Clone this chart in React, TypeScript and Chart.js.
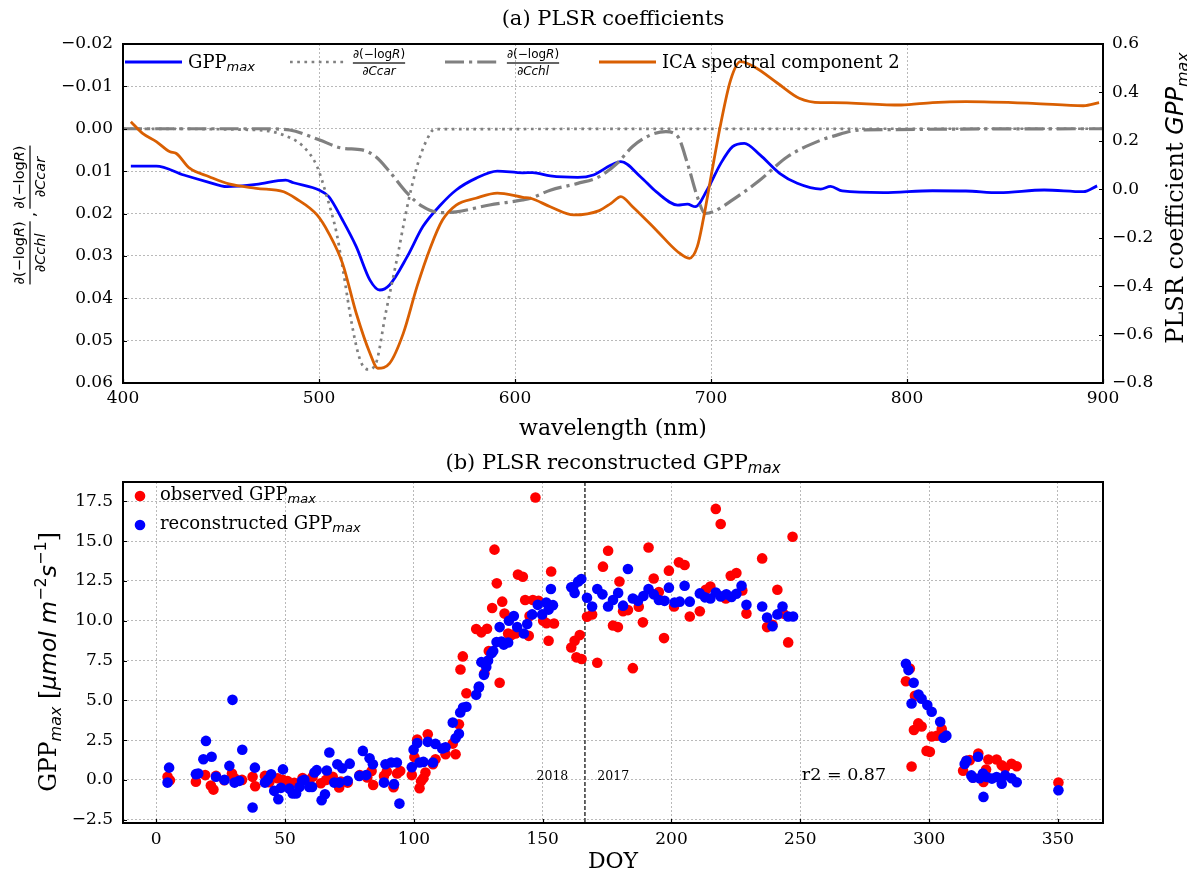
import React, { useEffect, useRef } from 'react';
import { Chart, registerables } from 'chart.js';

Chart.register(...registerables);

// ---------- (a) PLSR coefficients ----------
const wlTicks = [400, 500, 600, 700, 800, 900];
const derivTicks = [-0.02, -0.01, 0, 0.01, 0.02, 0.03, 0.04, 0.05, 0.06];
const coefTicks = [-0.8, -0.6, -0.4, -0.2, 0, 0.2, 0.4, 0.6];

const gppWl = [404, 417, 431, 443, 453, 468, 483, 487, 500, 505, 512, 519, 526, 531, 536, 545, 553, 562, 570, 580, 591, 604, 609, 618, 632, 640, 649, 654, 664, 672, 683, 688, 692, 698, 705, 711, 717, 725, 735, 744, 756, 761, 767, 788, 813, 830, 847, 870, 890, 897];
const gppCoef = [0.096, 0.096, 0.059, 0.031, 0.011, 0.020, 0.038, 0.027, -0.003, -0.030, -0.127, -0.237, -0.375, -0.416, -0.395, -0.278, -0.154, -0.065, -0.003, 0.045, 0.075, 0.068, 0.069, 0.055, 0.049, 0.059, 0.100, 0.114, 0.052, -0.010, -0.065, -0.061, -0.072, -0.003, 0.107, 0.176, 0.190, 0.142, 0.066, 0.025, 0.001, 0.012, -0.007, -0.014, -0.006, -0.007, -0.014, -0.003, -0.010, 0.014];

const icaWl = [404, 410, 417, 424, 427, 434, 444, 454, 468, 482, 488, 499, 505, 512, 519, 526, 530, 536, 543, 550, 557, 563, 570, 580, 591, 604, 608, 618, 630, 643, 649, 654, 660, 672, 683, 689, 693, 696, 700, 705, 710, 715, 722, 734, 745, 756, 762, 797, 813, 830, 864, 890, 898];
const icaComp = [0.279, 0.231, 0.197, 0.155, 0.149, 0.087, 0.052, 0.022, 0.004, -0.010, -0.037, -0.106, -0.182, -0.306, -0.512, -0.677, -0.739, -0.719, -0.595, -0.402, -0.237, -0.127, -0.065, -0.037, -0.016, -0.033, -0.037, -0.072, -0.106, -0.088, -0.058, -0.030, -0.072, -0.168, -0.258, -0.285, -0.237, -0.127, 0.052, 0.272, 0.451, 0.527, 0.506, 0.438, 0.376, 0.358, 0.358, 0.348, 0.358, 0.362, 0.355, 0.345, 0.358];

const ccarWl = [400, 468, 482, 492, 499, 504, 509, 512, 517, 521, 525, 529, 534, 540, 545, 550, 555, 559, 900];
const ccarDeriv = [0, 0.0003, 0.0015, 0.0042, 0.0089, 0.016, 0.0247, 0.0326, 0.0467, 0.0546, 0.0568, 0.0554, 0.0436, 0.0302, 0.0184, 0.0089, 0.0026, 0.0001, 0];

const cchlWl = [400, 470, 485, 500, 512, 522, 529, 536, 545, 553, 562, 570, 587, 604, 608, 618, 632, 643, 652, 660, 669, 677, 683, 688, 693, 697, 701, 711, 725, 739, 756, 762, 776, 900];
const cchlDeriv = [0, 0, 0.0003, 0.0026, 0.0046, 0.005, 0.0066, 0.0101, 0.0152, 0.0184, 0.0198, 0.0196, 0.018, 0.0168, 0.0164, 0.0145, 0.0129, 0.0113, 0.0082, 0.0042, 0.0015, 0.0007, 0.0018, 0.0082, 0.016, 0.02, 0.0196, 0.0168, 0.0121, 0.0066, 0.0027, 0.0018, 0.0003, 0];

// ---------- (b) PLSR reconstructed GPPmax ----------
const doyTicks = [0, 50, 100, 150, 200, 250, 300, 350];
const gppTicks = [-2.5, 0, 2.5, 5, 7.5, 10, 12.5, 15, 17.5];

const obsDoy = [4.4, 5.3, 15.4, 19, 21.2, 22.2, 23.2, 26.4, 29.4, 30.4, 33.3, 37.4, 38.4, 42.2, 43.9, 47.1, 49.1, 51, 53.6, 56.8, 58.8, 60.7, 63.9, 65.9, 68.5, 71, 71.7, 74.3, 79, 81.9, 83.6, 84.2, 88.4, 89.5, 92.1, 93.5, 94.7, 99.2, 100.2, 101.3, 102.2, 102.8, 103.7, 104.5, 105.4, 107.4, 108.4, 112.3, 115.1, 116.2, 117.5, 118.1, 119, 120.4, 124.2, 126.2, 127.4, 128.4, 129.1, 130.4, 131.3, 132.2, 133.3, 134.3, 135.2, 136.6, 137.9, 139.5, 140.4, 142.3, 143.2, 144.6, 144.9, 146.2, 147.2, 148.4, 150.2, 151.5, 152.3, 153.3, 154.4, 161.1, 162.4, 163.1, 164.4, 165.1, 167.2, 169.2, 171.2, 173.4, 175.4, 177.3, 179.2, 179.8, 181.2, 183.1, 185, 187.3, 188.9, 191.1, 193.1, 195.1, 197.1, 199, 201, 202.9, 205.1, 207.1, 211, 213.3, 215.1, 217.2, 219.1, 221.1, 223, 225.2, 227.5, 229.1, 235.2, 237.1, 239.2, 241.1, 243.4, 245.3, 247, 291, 292.5, 293.2, 294.1, 294.5, 295.8, 297.1, 299, 300.3, 301, 303, 304.9, 313.2, 314.5, 315.8, 317.1, 319.1, 321.1, 322.1, 323, 326.2, 328.2, 329.5, 332, 334, 350.2];
const obsGpp = [0.19, -0.02, -0.12, 0.3, -0.36, -0.61, 0.25, -0.02, 0.4, 0.1, 0, 0.19, -0.4, 0.25, -0.15, 0.1, 0, -0.08, -0.19, 0.12, -0.04, 0.19, -0.21, 0, 0.19, -0.48, -0.1, -0.17, 0.3, 0.15, 0.56, -0.32, 0.25, 0.52, -0.46, 0.4, 0.56, 0.3, 1.43, 2.54, -0.52, -0.08, 0.1, 0.46, 2.86, 0.98, 1.3, 1.61, 2.28, 1.61, 3.5, 6.94, 7.76, 5.44, 9.48, 9.27, 6.7, 9.5, 8.1, 10.8, 14.47, 12.35, 6.1, 11.2, 10.45, 9.2, 9.1, 9.2, 12.9, 12.77, 11.3, 9.05, 10.3, 11.3, 17.75, 11.25, 10, 9.85, 8.74, 13.1, 9.83, 8.32, 8.74, 7.7, 9.1, 7.6, 10.25, 10.4, 7.36, 13.4, 14.4, 9.7, 9.6, 12.47, 10.6, 10.67, 7.02, 10.88, 9.9, 14.6, 12.66, 11.8, 8.91, 13.15, 10.9, 13.67, 13.5, 10.27, 10.6, 11.95, 12.15, 17.03, 16.08, 11.4, 12.83, 13.0, 11.9, 10.45, 13.92, 9.6, 9.75, 11.95, 10.45, 8.64, 15.28, 6.2, 7.0, 0.84, 3.13, 5.28, 3.55, 3.35, 1.82, 1.76, 2.73, 2.77, 3.19, 0.57, 1.2, 1.24, 0.15, 1.66, -0.13, 0.65, 1.28, 1.28, 0.92, 0.76, 1.01, 0.86, -0.17];

const recDoy = [4.4, 5, 15.4, 16.3, 18.3, 19.3, 21.5, 23.2, 26.5, 28.4, 29.6, 30.4, 32.2, 33.4, 37.4, 38.3, 42.2, 43.3, 44.6, 45.8, 47.4, 48.4, 49.2, 51.7, 53, 54.3, 55.6, 56.6, 57.5, 59.4, 60.5, 61.4, 62.3, 64.2, 65.5, 66.2, 67.2, 69.1, 70.3, 71, 72.2, 74.3, 75.1, 78.8, 80.2, 81.5, 82.8, 84.1, 88.4, 89, 91.2, 92.3, 93.4, 94.4, 99.2, 99.9, 101.3, 102.2, 103.7, 105.4, 107.4, 108.4, 111, 112.3, 115.1, 116.2, 117.5, 118, 119.1, 120.4, 124.2, 125.2, 125.3, 126.2, 127.2, 128.1, 128.8, 130.1, 130.8, 132.1, 133.3, 134, 134.9, 136.6, 136.9, 138.8, 140.1, 142.7, 144, 145.9, 148.1, 149.8, 151.4, 152.3, 153.2, 154, 161.1, 161.8, 162.4, 163.8, 165, 167.2, 169.2, 171.2, 173.2, 175.4, 177.3, 179.3, 181.2, 183.1, 185, 187, 189.1, 191.1, 193.1, 195.1, 197.3, 199, 201.2, 203.2, 205.1, 207.1, 211, 213, 215.1, 217.2, 219.1, 221.3, 223.3, 225.2, 227.2, 229.1, 235.2, 237.1, 239.2, 241.1, 243.1, 245.3, 247.2, 291, 292, 293.2, 294, 295.9, 297.1, 299.3, 301, 304.3, 305.6, 306.7, 313.8, 314.5, 316.4, 317, 319, 319.6, 320.9, 321.1, 322.4, 324.4, 326.2, 328.2, 329.5, 332, 334, 350.2];
const recGpp = [-0.17, 0.77, 0.36, 0.4, 1.3, 2.45, 1.45, 0.2, 0, 0.88, 5.03, -0.17, -0.06, 1.89, -1.74, 0.77, -0.17, 0.03, 0.35, -0.69, -1.22, -0.5, 0.66, -0.55, -0.86, -0.86, -0.44, -0.06, 0, -0.44, -0.44, 0.46, 0.61, -1.28, -0.9, 0.59, 1.72, -0.17, 0.98, -0.17, 0.73, -0.06, 1.02, 0.25, 1.82, 0.3, 1.36, 0.98, -0.17, 0.98, 1.09, -0.27, 1.09, -1.49, 0.8, 1.9, 2.32, 1.09, 1.13, 2.39, 1.09, 2.26, 1.97, 2.05, 3.6, 2.61, 2.9, 4.23, 4.55, 4.6, 5.35, 5.8, 5.87, 7.4, 6.6, 7.1, 7.5, 7.95, 8.1, 8.66, 9.6, 8.7, 8.5, 8.63, 10.0, 10.3, 9.6, 9.2, 9.8, 10.4, 11.0, 10.4, 11.15, 10.7, 12.0, 10.98, 12.1, 12.1, 11.75, 12.46, 12.62, 11.45, 10.9, 12.0, 11.66, 10.9, 11.3, 11.75, 10.95, 13.25, 11.4, 11.25, 11.56, 12.0, 11.66, 11.3, 11.25, 12.08, 11.15, 11.2, 12.2, 11.2, 11.72, 11.47, 11.4, 11.78, 11.53, 11.66, 11.5, 11.7, 12.2, 11.0, 10.9, 10.2, 9.65, 10.4, 10.9, 10.27, 10.27, 7.3, 6.9, 4.8, 6.1, 5.37, 5.1, 4.7, 4.28, 3.65, 2.65, 2.78, 1.0, 1.2, 0.28, 0.14, 1.45, 0.1, 0.4, -1.07, 0.18, 0.08, 0.18, -0.24, 0.28, 0.1, -0.15, -0.65];

const yearSplitDoy = 166.4;
const yearLabels = ['2018', '2017'];
const r2Label = 'r2 = 0.87';

// ---------- helpers ----------
const SERIF = '"DejaVu Serif", serif';
const SANS = '"DejaVu Sans", sans-serif';
const sf = (s: number, it = false) => `${it ? 'italic ' : ''}${s}px ${SERIF}`;
const ssf = (s: number, it = false) => `${it ? 'italic ' : ''}${s}px ${SANS}`;

type Run = { t: string; f: string; dy?: number };

function runsWidth(ctx: CanvasRenderingContext2D, runs: Run[]) {
  let w = 0;
  for (const r of runs) { ctx.font = r.f; w += ctx.measureText(r.t).width; }
  return w;
}
function drawRuns(ctx: CanvasRenderingContext2D, runs: Run[], x: number, y: number, align: 'left' | 'center') {
  const w = runsWidth(ctx, runs);
  let cx = align === 'center' ? x - w / 2 : x;
  ctx.textAlign = 'left';
  ctx.textBaseline = 'alphabetic';
  for (const r of runs) {
    ctx.font = r.f;
    ctx.fillText(r.t, cx, y + (r.dy || 0));
    cx += ctx.measureText(r.t).width;
  }
}
const numRuns = (s: number): Run[] => [{ t: '∂(−log', f: ssf(s) }, { t: 'R', f: ssf(s, true) }, { t: ')', f: ssf(s) }];
const denRuns = (s: number, name: string): Run[] => [{ t: '∂', f: ssf(s) }, { t: name, f: ssf(s, true) }];
function fracWidth(ctx: CanvasRenderingContext2D, s: number, name: string) {
  return Math.max(runsWidth(ctx, numRuns(s)), runsWidth(ctx, denRuns(s, name)));
}
function drawFrac(ctx: CanvasRenderingContext2D, cx: number, barY: number, s: number, name: string) {
  const w = fracWidth(ctx, s, name);
  drawRuns(ctx, numRuns(s), cx, barY - 0.42 * s, 'center');
  drawRuns(ctx, denRuns(s, name), cx, barY + 1.0 * s, 'center');
  ctx.fillRect(cx - w / 2, barY - 0.6, w, 1.2);
  return w;
}
function minusFmt(v: number, d: number) {
  if (Math.abs(v) < 1e-9) return (0).toFixed(d);
  const s = Math.abs(v).toFixed(d);
  return v < 0 ? '−' + s : s;
}
function drawFrame(ctx: CanvasRenderingContext2D, a: any) {
  ctx.save();
  ctx.strokeStyle = '#000';
  ctx.lineWidth = 2;
  ctx.strokeRect(a.left, a.top, a.right - a.left, a.bottom - a.top);
  ctx.restore();
}
function inwardTicks(chart: any, id: string, side: 'left' | 'right' | 'bottom', len = 4) {
  const ctx = chart.ctx; const a = chart.chartArea; const sc = chart.scales[id];
  ctx.save(); ctx.strokeStyle = '#000'; ctx.lineWidth = 1.2;
  ctx.beginPath();
  for (const t of sc.ticks) {
    const p = Math.round(sc.getPixelForValue(t.value)) + 0.5;
    if (side === 'left') { ctx.moveTo(a.left, p); ctx.lineTo(a.left + len, p); }
    else if (side === 'right') { ctx.moveTo(a.right, p); ctx.lineTo(a.right - len, p); }
    else { ctx.moveTo(p, a.bottom); ctx.lineTo(p, a.bottom - len); }
  }
  ctx.stroke(); ctx.restore();
}
function legendLine(ctx: CanvasRenderingContext2D, x0: number, x1: number, y: number, color: string, w: number, dash: number[]) {
  ctx.save(); ctx.strokeStyle = color; ctx.lineWidth = w; ctx.setLineDash(dash); ctx.lineCap = 'butt';
  ctx.beginPath(); ctx.moveTo(x0, y); ctx.lineTo(x1, y); ctx.stroke(); ctx.restore();
}

const BLUE = '#0000ff';
const ORANGE = '#d95f02';
const GRAY = '#808080';
const DOTTED = [2.7, 4.5];
const DASHDOT = [19, 5, 3.2, 5];
const GRID = { color: '#a8a8a8', lineWidth: 0.8, drawTicks: false };
const TICKFONT = { family: SERIF, size: 17 };

const topPlugin = {
  id: 'topDecor',
  afterDraw(chart: any) {
    const ctx: CanvasRenderingContext2D = chart.ctx; const a = chart.chartArea;
    drawFrame(ctx, a);
    inwardTicks(chart, 'yL', 'left');
    inwardTicks(chart, 'yR', 'right');
    inwardTicks(chart, 'x', 'bottom');
    ctx.save();
    ctx.fillStyle = '#000';
    const cx = (a.left + a.right) / 2;
    drawRuns(ctx, [{ t: '(a) PLSR coefficients', f: sf(21) }], cx, 25, 'center');
    drawRuns(ctx, [{ t: 'wavelength (nm)', f: sf(22) }], cx, 435, 'center');
    // right label
    ctx.save(); ctx.translate(1183, 198); ctx.rotate(-Math.PI / 2);
    drawRuns(ctx, [{ t: 'PLSR coefficient ', f: sf(24) }, { t: 'GPP', f: ssf(24, true) }, { t: 'max', f: ssf(16, true), dy: 5 }], 0, 0, 'center');
    ctx.restore();
    // left label (fractions)
    ctx.save(); ctx.translate(30, 215); ctx.rotate(-Math.PI / 2);
    const s = 14.5;
    const w1 = fracWidth(ctx, s, 'Cchl'); const w2 = fracWidth(ctx, s, 'Ccar');
    ctx.font = ssf(s); const wc = ctx.measureText(',').width; const gap = 4;
    const total = w1 + gap + wc + gap + w2; const x0 = -total / 2;
    drawFrac(ctx, x0 + w1 / 2, 0, s, 'Cchl');
    drawRuns(ctx, [{ t: ',', f: ssf(s + 2) }], x0 + w1 + gap, 5, 'left');
    drawFrac(ctx, x0 + w1 + gap + wc + gap + w2 / 2, 0, s, 'Ccar');
    ctx.restore();
    // legend
    const ly = 62;
    legendLine(ctx, 125, 182, ly, BLUE, 2.8, []);
    drawRuns(ctx, [{ t: 'GPP', f: sf(18) }, { t: 'max', f: ssf(13, true), dy: 3 }], 188, 68, 'left');
    legendLine(ctx, 290, 345, ly, GRAY, 2.7, DOTTED);
    drawFrac(ctx, 379, 63, 12, 'Ccar');
    legendLine(ctx, 445, 500, ly, GRAY, 3.2, DASHDOT);
    drawFrac(ctx, 533, 63, 12, 'Cchl');
    legendLine(ctx, 599, 656, ly, ORANGE, 2.8, []);
    drawRuns(ctx, [{ t: 'ICA spectral component 2', f: sf(18) }], 662, 68, 'left');
    ctx.restore();
  },
};

const botPlugin = {
  id: 'botDecor',
  beforeDatasetsDraw(chart: any) {
    const ctx: CanvasRenderingContext2D = chart.ctx; const a = chart.chartArea;
    const x = chart.scales.x.getPixelForValue(yearSplitDoy);
    ctx.save(); ctx.strokeStyle = '#555555'; ctx.lineWidth = 1.8; ctx.setLineDash([4, 2]);
    ctx.beginPath(); ctx.moveTo(x, a.top); ctx.lineTo(x, a.bottom); ctx.stroke(); ctx.restore();
  },
  afterDraw(chart: any) {
    const ctx: CanvasRenderingContext2D = chart.ctx; const a = chart.chartArea;
    const xs = chart.scales.x; const ys = chart.scales.y;
    drawFrame(ctx, a);
    inwardTicks(chart, 'y', 'left');
    inwardTicks(chart, 'x', 'bottom');
    ctx.save(); ctx.fillStyle = '#000';
    const cx = (a.left + a.right) / 2;
    drawRuns(ctx, [{ t: '(b) PLSR reconstructed GPP', f: sf(21) }, { t: 'max', f: ssf(15, true), dy: 4 }], cx, 29, 'center');
    drawRuns(ctx, [{ t: 'DOY', f: sf(22) }], cx, 428, 'center');
    // y label
    ctx.save(); ctx.translate(56, 222); ctx.rotate(-Math.PI / 2);
    drawRuns(ctx, [
      { t: 'GPP', f: sf(23.5) }, { t: 'max', f: ssf(16, true), dy: 5 },
      { t: ' [', f: sf(23.5) }, { t: 'μmol m', f: ssf(23.5, true) }, { t: '−2', f: ssf(16), dy: -10 },
      { t: 's', f: ssf(23.5, true) }, { t: '−1', f: ssf(16), dy: -10 }, { t: ']', f: sf(23.5) },
    ], 0, 0, 'center');
    ctx.restore();
    // legend
    ctx.fillStyle = 'red'; ctx.beginPath(); ctx.arc(140, 56, 5.3, 0, Math.PI * 2); ctx.fill();
    ctx.fillStyle = 'blue'; ctx.beginPath(); ctx.arc(140, 85, 5.3, 0, Math.PI * 2); ctx.fill();
    ctx.fillStyle = '#000';
    drawRuns(ctx, [{ t: 'observed GPP', f: sf(18) }, { t: 'max', f: ssf(13, true), dy: 3 }], 160, 60, 'left');
    drawRuns(ctx, [{ t: 'reconstructed GPP', f: sf(18) }, { t: 'max', f: ssf(13, true), dy: 3 }], 160, 89, 'left');
    // annotations
    const y0 = ys.getPixelForValue(0);
    drawRuns(ctx, [{ t: yearLabels[0], f: sf(12.5) }], xs.getPixelForValue(147.6), y0, 'left');
    drawRuns(ctx, [{ t: yearLabels[1], f: sf(12.5) }], xs.getPixelForValue(171.2), y0, 'left');
    drawRuns(ctx, [{ t: r2Label, f: sf(17.5) }], xs.getPixelForValue(250.6), y0, 'left');
    ctx.restore();
  },
};

function lineData(xs: number[], ys: number[]) { return xs.map((x, i) => ({ x, y: ys[i] })); }

export default function App() {
  const topRef = useRef<HTMLCanvasElement>(null);
  const botRef = useRef<HTMLCanvasElement>(null);

  useEffect(() => {
    const common = { responsive: false, animation: false as const, events: [] as any[], plugins: { legend: { display: false }, title: { display: false }, tooltip: { enabled: false } } };
    const top = new Chart(topRef.current!, {
      type: 'line',
      data: {
        datasets: [
          { data: lineData(gppWl, gppCoef), yAxisID: 'yR', borderColor: BLUE, borderWidth: 2.8, pointRadius: 0, cubicInterpolationMode: 'monotone', order: 3 } as any,
          { data: lineData(ccarWl, ccarDeriv), yAxisID: 'yL', borderColor: GRAY, borderWidth: 2.7, borderDash: DOTTED, pointRadius: 0, cubicInterpolationMode: 'monotone', order: 2 },
          { data: lineData(cchlWl, cchlDeriv), yAxisID: 'yL', borderColor: GRAY, borderWidth: 3.2, borderDash: DASHDOT, pointRadius: 0, cubicInterpolationMode: 'monotone', order: 1 },
          { data: lineData(icaWl, icaComp), yAxisID: 'yR', borderColor: ORANGE, borderWidth: 2.8, pointRadius: 0, cubicInterpolationMode: 'monotone', order: 0 },
        ],
      },
      options: {
        ...common,
        layout: { padding: { top: 44, left: 0, right: 0, bottom: 0 } },
        scales: {
          x: {
            type: 'linear', min: 400, max: 900,
            afterBuildTicks: (s: any) => { s.ticks = wlTicks.map((v) => ({ value: v })); },
            ticks: { padding: 5, color: '#000', font: TICKFONT, maxRotation: 0, autoSkip: false, callback: (v: any) => String(v) },
            grid: GRID, border: { display: false, dash: [2, 2] },
            afterFit: (s: any) => { s.height = 57; },
          },
          yL: {
            type: 'linear', position: 'left', reverse: true, min: -0.02, max: 0.06,
            afterBuildTicks: (s: any) => { s.ticks = derivTicks.map((v) => ({ value: v })); },
            ticks: { padding: 10, color: '#000', font: TICKFONT, autoSkip: false, callback: (v: any) => minusFmt(Number(v), 2) },
            grid: GRID, border: { display: false, dash: [2, 2] },
            afterFit: (s: any) => { s.width = 123; },
          },
          yR: {
            type: 'linear', position: 'right', min: -0.8, max: 0.6,
            afterBuildTicks: (s: any) => { s.ticks = coefTicks.map((v) => ({ value: v })); },
            ticks: { padding: 9, color: '#000', font: TICKFONT, autoSkip: false, callback: (v: any) => minusFmt(Number(v), 1) },
            grid: { drawOnChartArea: false, drawTicks: false }, border: { display: false },
            afterFit: (s: any) => { s.width = 84; },
          },
        },
      } as any,
      plugins: [topPlugin],
    });

    const bot = new Chart(botRef.current!, {
      type: 'scatter',
      data: {
        datasets: [
          { data: lineData(obsDoy, obsGpp), backgroundColor: '#ff0000', borderWidth: 0, pointRadius: 5.3, order: 1 },
          { data: lineData(recDoy, recGpp), backgroundColor: '#0000ff', borderWidth: 0, pointRadius: 5.3, order: 0 },
        ],
      },
      options: {
        ...common,
        layout: { padding: { top: 42, left: 0, right: 84, bottom: 0 } },
        scales: {
          x: {
            type: 'linear', min: -12.9, max: 367.5,
            afterBuildTicks: (s: any) => { s.ticks = doyTicks.map((v) => ({ value: v })); },
            ticks: { padding: 6, color: '#000', font: TICKFONT, maxRotation: 0, autoSkip: false, callback: (v: any) => String(v) },
            grid: GRID, border: { display: false, dash: [2, 2] },
            afterFit: (s: any) => { s.height = 53; },
          },
          y: {
            type: 'linear', position: 'left', min: -2.71, max: 18.72,
            afterBuildTicks: (s: any) => { s.ticks = gppTicks.map((v) => ({ value: v })); },
            ticks: { padding: 10, color: '#000', font: TICKFONT, autoSkip: false, callback: (v: any) => minusFmt(Number(v), 1) },
            grid: GRID, border: { display: false, dash: [2, 2] },
            afterFit: (s: any) => { s.width = 123; },
          },
        },
      } as any,
      plugins: [botPlugin],
    });

    return () => { top.destroy(); bot.destroy(); };
  }, []);

  return (
    <div style={{ position: 'absolute', left: 0, top: 0, width: 1187, height: 876, background: '#fff' }}>
      <canvas ref={topRef} width={1187} height={440} style={{ position: 'absolute', left: 0, top: 0, width: 1187, height: 440 }} />
      <canvas ref={botRef} width={1187} height={436} style={{ position: 'absolute', left: 0, top: 440, width: 1187, height: 436 }} />
    </div>
  );
}
